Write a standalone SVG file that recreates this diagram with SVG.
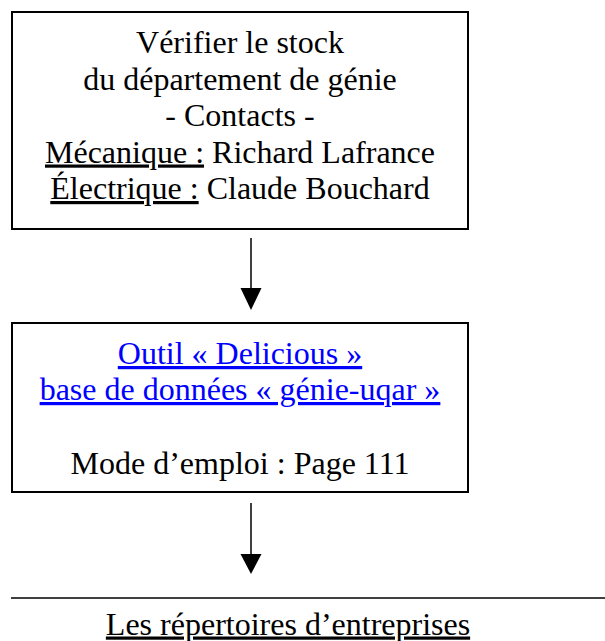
<svg xmlns="http://www.w3.org/2000/svg" width="605" height="641" viewBox="0 0 605 641">
<style>
.box{fill:#fff;stroke:#000;stroke-width:2}
.t{font-family:"Liberation Serif","Times New Roman",serif;font-size:32px;fill:#000;text-anchor:middle}
.link{fill:#0000ff;text-decoration:underline}
.u{text-decoration:underline}
.conn line{stroke:#000;stroke-width:1.5}
.conn polygon{fill:#000}
</style>
<rect width="605" height="641" fill="#fff"/>
<g id="node-stock">
<rect class="box" x="12" y="12" width="456" height="217"/>
<text class="t" x="240" y="53">Vérifier le stock</text>
<text class="t" x="240" y="89.5">du département de génie</text>
<text class="t" x="240" y="126">- Contacts -</text>
<text class="t" x="240" y="162.5"><tspan class="u">Mécanique :</tspan> Richard Lafrance</text>
<text class="t" x="240" y="199"><tspan class="u">Électrique :</tspan> Claude Bouchard</text>
</g>
<g id="node-delicious">
<rect class="box" x="12" y="323" width="456" height="169"/>
<text class="t link" x="240" y="364">Outil « Delicious »</text>
<text class="t link" x="240" y="400">base de données « génie-uqar »</text>
<text class="t" x="240" y="474">Mode d’emploi : Page 111</text>
</g>
<g id="node-repertoires">
<line x1="11" y1="598" x2="605" y2="598" stroke="#000" stroke-width="1.5"/>
<text class="t u" x="288" y="634.5">Les répertoires d’entreprises</text>
</g>
<g id="connectors" class="conn">
<line x1="251" y1="238" x2="251" y2="290"/>
<polygon points="240.5,288 261.5,288 251,310"/>
<line x1="251" y1="503" x2="251" y2="556"/>
<polygon points="240.5,554 261.5,554 251,574"/>
</g>
</svg>
